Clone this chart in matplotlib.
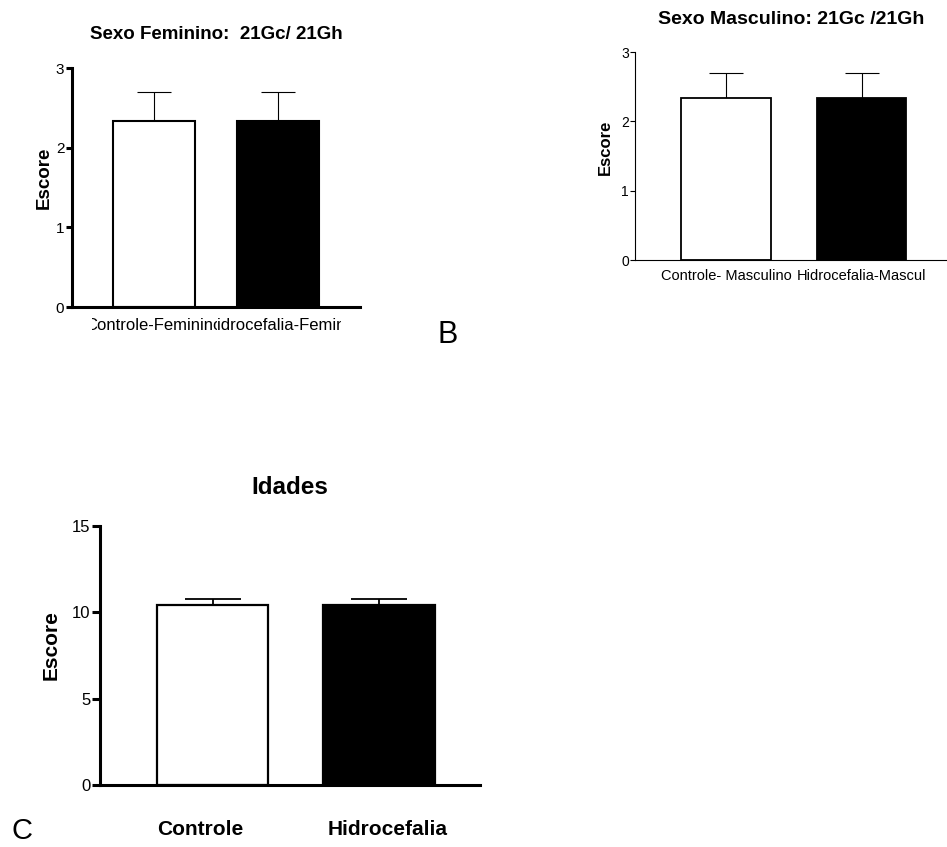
import matplotlib
matplotlib.use('Agg')
import matplotlib.pyplot as plt
import matplotlib.transforms as mtransforms
from matplotlib.patches import Rectangle

plt.rcParams['font.family'] = ['Liberation Sans', 'DejaVu Sans']

# dados
grupos = ['Controle', 'Hidrocefalia']
fem_labels = ['Controle-Feminino', 'Hidrocefalia-Feminino']
masc_labels = ['Controle- Masculino', 'Hidrocefalia-Mascul']
fem_media = [2.33, 2.33]
fem_erro = [0.37, 0.37]
masc_media = [2.33, 2.33]
masc_erro = [0.37, 0.37]
idade_media = [10.4, 10.4]
idade_erro = [0.4, 0.4]
cores = ['white', 'black']

fig = plt.figure(figsize=(9.47, 8.47), dpi=100)

def barras(ax, medias, erros, largura, lw_eixo, lw_barra, lw_erro, cap):
    x = list(range(len(medias)))
    ax.bar(x, medias, width=largura, color=cores, edgecolor='black', linewidth=lw_barra, zorder=2)
    ax.errorbar(x, medias, yerr=[[0] * len(erros), erros], fmt='none', ecolor='black',
                elinewidth=lw_erro, capsize=cap, capthick=lw_erro, zorder=1)
    for s in ['top', 'right']:
        ax.spines[s].set_visible(False)
    for s in ['left', 'bottom']:
        ax.spines[s].set_linewidth(lw_eixo)
    ax.set_xticks([])
    return x

# A - feminino
axA = fig.add_axes([72 / 947, 1 - 307 / 847, 288 / 947, 239 / 847])
xA = barras(axA, fem_media, fem_erro, 0.664, 2.2, 1.5, 0.8, 12)
axA.set_xlim(-0.664, 1.668)
axA.set_ylim(0, 3)
axA.set_yticks([0, 1, 2, 3])
axA.tick_params(axis='y', length=4.5, width=2.2, labelsize=11, pad=1)
axA.set_title('Sexo Feminino:  21Gc/ 21Gh', fontsize=13.5, fontweight='bold', pad=21)
axA.text(-0.097, 0.54, 'Escore', rotation=90, ha='center', va='center',
         fontsize=13.5, fontweight='bold', transform=axA.transAxes)
# rotulos cortados como no original (um sobre o outro)
clipes = [(0.0694, 0.5035), (0.5035, 0.934)]
alinh = ['center', 'left']
desloc = [0, -51.5]
for xi, lab, (c0, c1), ha, dx in zip(xA, fem_labels, clipes, alinh, desloc):
    tr = mtransforms.blended_transform_factory(axA.transData, axA.transAxes)
    tr = mtransforms.offset_copy(tr, fig=fig, x=dx, y=-13, units='points')
    t = axA.text(xi, 0, lab, ha=ha, va='center', fontsize=12, transform=tr)
    r = Rectangle((c0, -0.3), c1 - c0, 0.3, transform=axA.transAxes)
    t.set_clip_path(r)
    t.set_clip_on(True)

# B - masculino
axB = fig.add_axes([635 / 947, 1 - 260 / 847, 312 / 947, 208 / 847])
xB = barras(axB, masc_media, masc_erro, 0.664, 0.8, 1.3, 0.8, 12)
axB.set_xlim(-0.672, 1.631)
axB.set_ylim(0, 3)
axB.set_yticks([0, 1, 2, 3])
axB.tick_params(axis='y', length=3.5, width=0.8, labelsize=10, pad=1)
axB.set_title('Sexo Masculino: 21Gc /21Gh', fontsize=14, fontweight='bold', pad=20)
axB.text(-0.096, 0.541, 'Escore', rotation=90, ha='center', va='center',
         fontsize=12, fontweight='bold', transform=axB.transAxes)
for xi, lab in zip(xB, masc_labels):
    tr = mtransforms.blended_transform_factory(axB.transData, axB.transAxes)
    tr = mtransforms.offset_copy(tr, fig=fig, x=0, y=-11.5, units='points')
    axB.text(xi, 0, lab, ha='center', va='center', fontsize=10.5, transform=tr)

# C - idades
axC = fig.add_axes([100 / 947, 1 - 785 / 847, 380 / 947, 259 / 847])
xC = barras(axC, idade_media, idade_erro, 0.67, 2.2, 1.6, 1.3, 20)
axC.set_xlim(-0.676, 1.607)
axC.set_ylim(0, 15)
axC.set_yticks([0, 5, 10, 15])
axC.tick_params(axis='y', length=6, width=2.2, labelsize=12, pad=1)
axC.set_title('Idades', fontsize=17.5, fontweight='bold', pad=23)
axC.text(-0.129, 0.54, 'Escore', rotation=90, ha='center', va='center',
         fontsize=15, fontweight='bold', transform=axC.transAxes)
for xi, lab, dx in zip(xC, grupos, [-9, 6]):
    tr = mtransforms.blended_transform_factory(axC.transData, axC.transAxes)
    tr = mtransforms.offset_copy(tr, fig=fig, x=dx, y=-32, units='points')
    axC.text(xi, 0, lab, ha='center', va='center', fontsize=15, fontweight='bold', transform=tr)

# letras dos paineis
fig.text(448 / 947, 1 - 335 / 847, 'B', fontsize=22, ha='center', va='center')
fig.text(22 / 947, 1 - 831 / 847, 'C', fontsize=21, ha='center', va='center')

fig.savefig('out.png', dpi=100)
